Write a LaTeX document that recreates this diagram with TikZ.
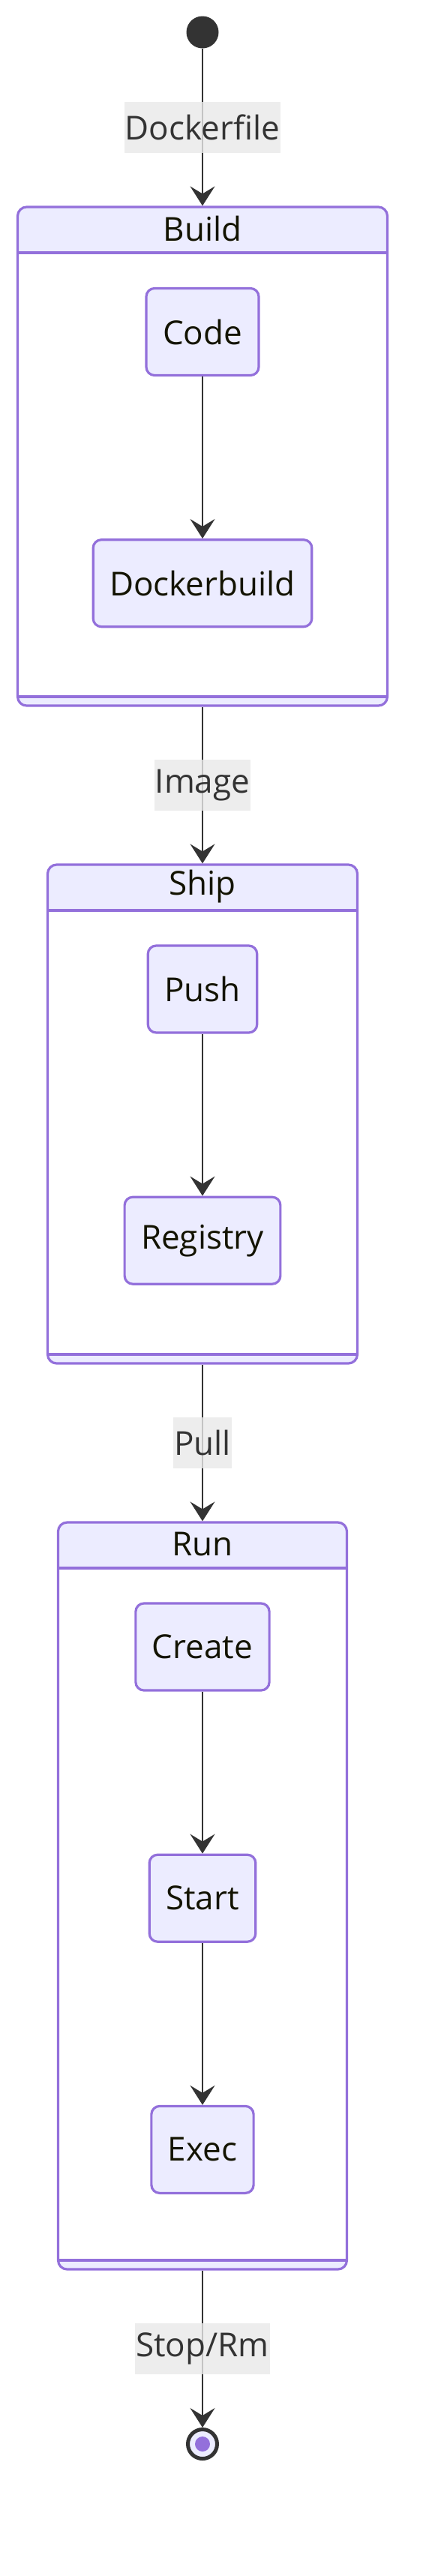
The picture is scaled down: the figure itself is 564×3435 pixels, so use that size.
\documentclass[tikz,border=0pt]{standalone}
\usepackage{fontspec}
\setmainfont{Open Sans}
\usetikzlibrary{arrows.meta,
                positioning}
\definecolor{statefill}{HTML}{ECECFF}
\definecolor{stateline}{HTML}{9370DB}
\definecolor{edgeline}{HTML}{333333}
\definecolor{labelfill}{HTML}{E8E8E8}
\definecolor{statetext}{HTML}{131300}
\tikzset{state/.style =
   {rectangle,
    draw=stateline,
    fill=statefill,
    line width=3.2pt,
    rounded corners=11pt,
    text=statetext,
    inner xsep=22pt,
    minimum height=116pt}}
\tikzset{compound/.style =
   {rectangle,
    draw=stateline,
    fill=white,
    line width=3.2pt,
    rounded corners=12pt,
    path picture={
      \fill [statefill, sharp corners]
       (path picture bounding box.north west) rectangle
       ([yshift=-61pt]path picture bounding box.north east);
      \fill [statefill, sharp corners]
       (path picture bounding box.south west) rectangle
       ([yshift=12pt]path picture bounding box.south east);
      \draw [stateline, line width=3.2pt, sharp corners]
       ([yshift=-61pt]path picture bounding box.north west) --
       ([yshift=-61pt]path picture bounding box.north east);
      \draw [stateline, line width=3.2pt, sharp corners]
       ([yshift=12pt]path picture bounding box.south west) --
       ([yshift=12pt]path picture bounding box.south east);}}}
\tikzset{title/.style = {text=statetext, inner sep=0pt}}
\tikzset{transition/.style =
   {draw=edgeline,
    line width=2.2pt,
    -{Stealth[length=26pt, width=33pt, inset=10pt]}}}
\tikzset{trigger/.style =
   {fill=labelfill,
    fill opacity=0.8,
    text opacity=1,
    text=edgeline,
    inner xsep=1pt,
    minimum height=68pt}}
\tikzset{init/.style =
   {circle, fill=edgeline, minimum size=43pt, inner sep=0pt}}
\tikzset{final/.style =
   {circle, draw=edgeline, line width=5pt, fill=statefill,
    minimum size=39pt, inner sep=0pt}}
\tikzset{finaldot/.style =
   {circle, fill=stateline, minimum size=20pt, inner sep=0pt}}

\begin{document}
\begin{tikzpicture}[x=1pt, y=1pt, node distance=216pt,
                    font=\fontsize{44}{53}\selectfont]

    \useasboundingbox (0,0) rectangle (564,-3435);

    \node [init] (begin) at (270,-43) {};

    \node [compound, minimum width=493pt, minimum height=665pt] (build) at (270,-608.5) {};
    \node [title] (build title) at ([yshift=-30.5pt]build.north) {Build};
    \node [state] (code) at (270,-442.5) {Code};
    \node [state, below=of code] (dockerbuild) {Dockerbuild};

    \node [compound, minimum width=413pt, minimum height=665pt] (ship) at (270,-1485.5) {};
    \node [title] (ship title) at ([yshift=-30.5pt]ship.north) {Ship};
    \node [state] (push) at (270,-1319) {Push};
    \node [state, below=of push] (registry) {Registry};

    \node [compound, minimum width=385pt, minimum height=996pt] (run) at (270,-2528) {};
    \node [title] (run title) at ([yshift=-30.5pt]run.north) {Run};
    \node [state] (create) at (270,-2196) {Create};
    \node [state, below=of create] (start) {Start};
    \node [state, below=of start] (exec) {Exec};

    \node [final] (finish) at (270,-3259) {};
    \node [finaldot] (finish dot) at (finish) {};

    \draw [transition] (begin) -- node [trigger] {Dockerfile} (build);
    \draw [transition] (code) -- (dockerbuild);
    \draw [transition] (build) -- node [trigger] {Image} (ship);
    \draw [transition] (push) -- (registry);
    \draw [transition] (ship) -- node [trigger] {Pull} (run);
    \draw [transition] (create) -- (start);
    \draw [transition] (start) -- (exec);
    \draw [transition] (run) -- node [trigger] {Stop/Rm} (finish);

\end{tikzpicture}
\end{document}
